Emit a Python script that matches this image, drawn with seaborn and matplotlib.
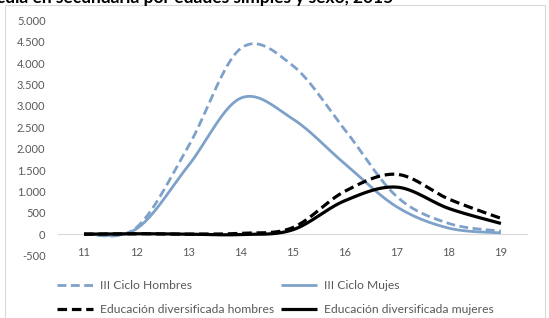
import numpy as np
import pandas as pd
import matplotlib
matplotlib.use("Agg")
import matplotlib.pyplot as plt
from matplotlib.patches import Rectangle
from matplotlib.ticker import FuncFormatter
import seaborn as sns

# ---- data ----
edades = [11, 12, 13, 14, 15, 16, 17, 18, 19]
iii_hombres = [0, 150, 2050, 4340, 3950, 2450, 880, 250, 70]
iii_mujeres = [0, 120, 1600, 3180, 2700, 1650, 640, 140, 30]
div_hombres = [0, 10, 0, 20, 150, 1000, 1400, 820, 370]
div_mujeres = [0, 10, 0, -10, 100, 780, 1100, 600, 250]
labels = ["III Ciclo Hombres", "III Ciclo Mujes",
          "Educación diversificada hombres", "Educación diversificada mujeres"]
y_ticks = [-500, 0, 500, 1000, 1500, 2000, 2500, 3000, 3500, 4000, 4500, 5000]
titulo = "Matrícula en secundaria por edades simples y sexo, 2015"


def smooth(x, y, n=40):
    """Excel-style smoothed line (cubic Bezier through the points)."""
    x = np.asarray(x, float); y = np.asarray(y, float)
    px = np.r_[x[0], x, x[-1]]; py = np.r_[y[0], y, y[-1]]
    xs, ys = [], []
    t = np.linspace(0, 1, n)
    for i in range(1, len(px) - 2):
        p0 = np.array([px[i], py[i]]); p3 = np.array([px[i + 1], py[i + 1]])
        c1 = p0 + (np.array([px[i + 1], py[i + 1]]) - np.array([px[i - 1], py[i - 1]])) / 6
        c2 = p3 - (np.array([px[i + 2], py[i + 2]]) - np.array([px[i], py[i]])) / 6
        b = ((1 - t) ** 3)[:, None] * p0 + (3 * (1 - t) ** 2 * t)[:, None] * c1 \
            + (3 * (1 - t) * t ** 2)[:, None] * c2 + (t ** 3)[:, None] * p3
        if i > 1:
            b = b[1:]
        xs.append(b[:, 0]); ys.append(b[:, 1])
    return np.concatenate(xs), np.concatenate(ys)


sns.set_style("white")
plt.rcParams["font.family"] = ["Lato", "DejaVu Sans"]

fig = plt.figure(figsize=(5.49, 3.18), dpi=100)
ax = fig.add_axes([58 / 549, 1 - 255.5 / 318, (527 - 58) / 549, (255.5 - 20.5) / 318])
renderer = fig.canvas.get_renderer()


def fit_size(text, target_px, base=8.0, **kw):
    t = fig.text(0, 0, text, fontsize=base, **kw)
    w = t.get_window_extent(renderer).width
    t.remove()
    return base * target_px / w


blue = "#7EA1C9"
series = [
    (iii_hombres, blue, (3.2, 1.6), 2.0),
    (iii_mujeres, blue, None, 2.0),
    (div_hombres, "black", (3.0, 1.5), 2.3),
    (div_mujeres, "black", None, 2.3),
]
handles = []
for (vals, col, dash, lw), lab in zip(series, labels):
    sx, sy = smooth(edades, vals)
    df = pd.DataFrame({"edad": sx, "valor": sy})
    sns.lineplot(data=df, x="edad", y="valor", ax=ax, color=col, lw=lw,
                 sort=False, estimator=None, label=lab)
    l = ax.get_lines()[-1]
    if dash is not None:
        l.set_dashes(dash)
    l.set_solid_capstyle("butt")
    l.set_dash_capstyle("butt")
    handles.append(l)

ax.set_xlim(10.5, 19.5)
ax.set_ylim(-500, 5000)
ax.set_xticks(edades)
ax.set_yticks(y_ticks)
ax.yaxis.set_major_formatter(FuncFormatter(lambda v, p: f"{int(v):,}".replace(",", ".")))
ax.set_xlabel(""); ax.set_ylabel("")
for s in ["top", "right", "left"]:
    ax.spines[s].set_visible(False)
ax.spines["bottom"].set_position(("data", 0))
ax.spines["bottom"].set_color("#D9D9D9")
ax.spines["bottom"].set_linewidth(0.8)
ax.spines["bottom"].set_zorder(0)
ax.tick_params(axis="both", length=0, labelsize=8, labelcolor="#595959")
ax.tick_params(axis="x", pad=9)
ax.tick_params(axis="y", pad=9)

# legend: 2 columns, row-wise order like the reference
leg_fs = fit_size(labels[2], 176)
px_per_em = leg_fs * 100 / 72
order = [0, 2, 1, 3]
leg = ax.legend([handles[i] for i in order], [labels[i] for i in order],
                loc="center", bbox_to_anchor=(275 / 549, 1 - 297.5 / 318),
                bbox_transform=fig.transFigure, ncol=2, frameon=False,
                fontsize=leg_fs, handlelength=36 / px_per_em,
                handletextpad=7 / px_per_em, columnspacing=7 / px_per_em,
                labelspacing=(25 - px_per_em) / px_per_em, borderpad=0)
for t in leg.get_texts():
    t.set_color("#595959")

# chart border
fig.patches.append(Rectangle((5 / 549, -0.05), 540 / 549, 1.05 - 5 / 318,
                             transform=fig.transFigure, fill=False,
                             edgecolor="#D9D9D9", lw=0.8))
# title, clipped at the top edge like the reference
tfs = fit_size("en secundaria por edades simples y sexo, 2015", 363, fontweight="bold")
fig.text(393 / 549, 1 - 2.5 / 318, titulo, ha="right", va="baseline",
         fontsize=tfs, fontweight="bold", color="black")

fig.savefig("out.png", dpi=100)
